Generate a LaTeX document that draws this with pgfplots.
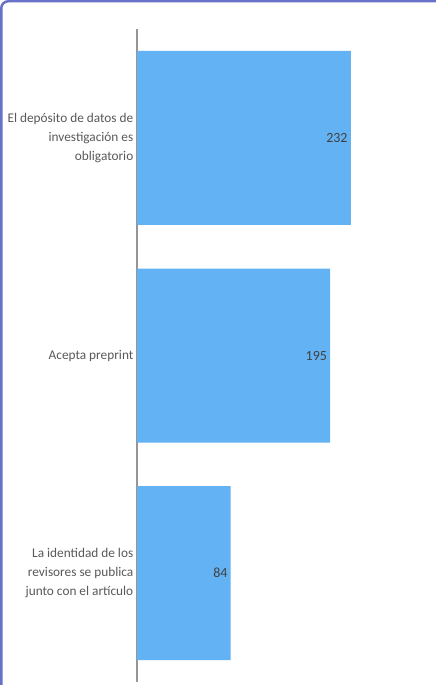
\documentclass[border=0pt]{standalone}
\usepackage{pgfplots}
\pgfplotsset{compat=1.18}
\usepackage{fontspec}
\setmainfont{Carlito}
\definecolor{barblue}{RGB}{99,179,244}
\definecolor{labelgray}{RGB}{89,89,89}
\definecolor{valgray}{RGB}{64,64,64}
\definecolor{framecol}{RGB}{104,114,200}
\definecolor{axisgray}{RGB}{150,150,150}
\begin{document}
\begin{tikzpicture}
\useasboundingbox (0pt,0pt) rectangle (436pt,-685pt);
\fill[white] (0pt,0pt) rectangle (436pt,-685pt);
\draw[framecol, line width=2.5pt, rounded corners=7pt] (1.25pt,-700pt) -- (1.25pt,-1.25pt) -- (450pt,-1.25pt);
\begin{axis}[
  at={(137pt,-29pt)}, anchor=north west,
  scale only axis, width=292.8pt, height=653pt,
  xbar, bar width=174pt,
  xmode=log, xmin=38, xmax=453,
  ymin=-0.5, ymax=2.5, y dir=reverse,
  ytick={0,1,2},
  yticklabels={{El depósito de datos de\\investigación es\\obligatorio},{Acepta preprint},{La identidad de los\\revisores se publica\\junto con el artículo}},
  yticklabel style={align=right, font=\fontsize{13.3}{19}\selectfont, text=labelgray, inner sep=0pt, xshift=-3.5pt},
  axis x line=none, axis y line*=left,
  y axis line style={-, draw=axisgray, line width=1.6pt},
  major tick length=0pt,
]
\addplot[fill=barblue, draw=none,
  nodes near coords, point meta=explicit symbolic,
  every node near coord/.append style={anchor=east, font=\fontsize{14}{16}\selectfont, text=valgray, xshift=-2pt, inner sep=1pt}]
  table[x=x, y=y, meta=label] {
x y label
232 0 232
195 1 195
84 2 84
};
\end{axis}
\end{tikzpicture}
\end{document}
